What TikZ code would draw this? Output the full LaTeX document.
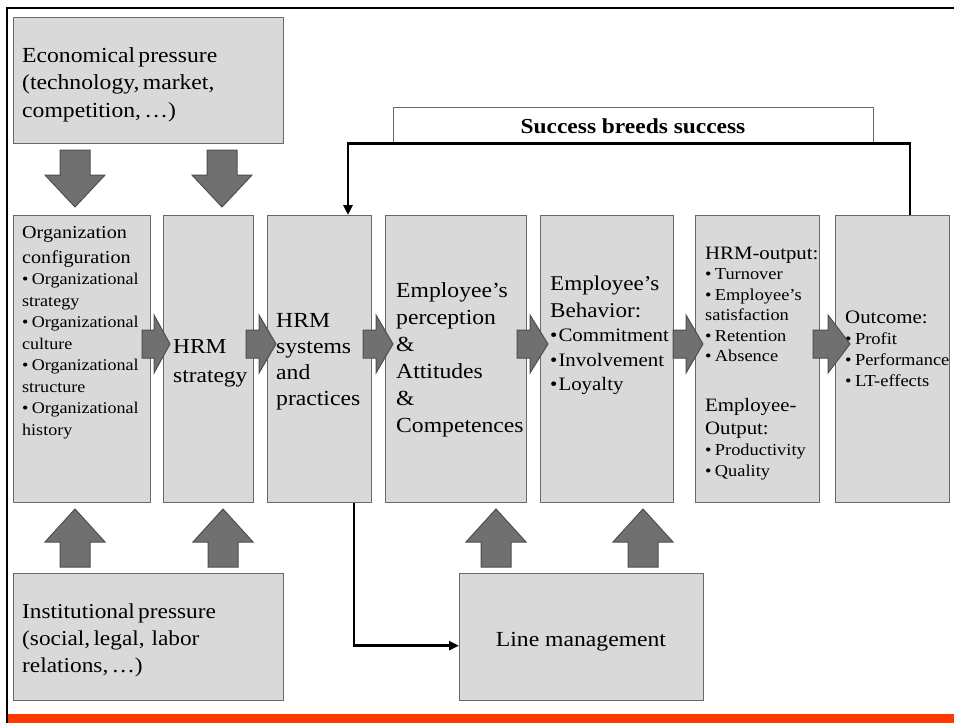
\documentclass[tikz,border=0pt]{standalone}
\usepackage{fontspec}
\setmainfont{Liberation Serif}[FakeStretch=1.1]
\usetikzlibrary{arrows.meta}
\definecolor{boxfill}{RGB}{217,217,217}
\definecolor{boxline}{RGB}{105,105,105}
\definecolor{arrfill}{RGB}{112,112,112}
\definecolor{arrline}{RGB}{78,78,78}
\definecolor{barred}{RGB}{255,56,0}
\newcommand{\setfs}[2]{\fontsize{#1pt}{#2pt}\selectfont}
\newcommand{\blkR}[3]{\filldraw[blk] (#1,330) -- (#2,330) -- (#2,315) -- (#3,344) -- (#2,373) -- (#2,358) -- (#1,358) -- cycle;}
\newcommand{\blkD}[1]{\filldraw[blk] (#1-15,150) -- (#1+15,150) -- (#1+15,175) -- (#1+30,175) -- (#1,207) -- (#1-30,175) -- (#1-15,175) -- cycle;}
\newcommand{\blkU}[1]{\filldraw[blk] (#1-15,567) -- (#1+15,567) -- (#1+15,542) -- (#1+30,542) -- (#1,509) -- (#1-30,542) -- (#1-15,542) -- cycle;}
\tikzset{
  box/.style={draw=boxline, fill=boxfill, line width=1.3pt, inner sep=0pt, anchor=north west},
  txt/.style={anchor=base west, inner sep=0pt, align=left, text width=300pt},
  blk/.style={fill=arrfill, draw=arrline, line width=1pt, line join=miter},
  fb/.style={line width=2.6pt, -{Triangle[length=10pt,width=9pt]}},
}
\begin{document}
\begin{tikzpicture}[x=1pt,y=-1pt]
\useasboundingbox (0,0) rectangle (954,723);
\fill[white] (0,0) rectangle (954,723);
% frame
\draw[line width=2pt] (7,723) -- (7,8) -- (954,8);
\fill[barred] (8,714) rectangle (954,723);

% boxes
\node[box, minimum width=270pt, minimum height=126pt] (econ) at (13,17) {};
\node[box, minimum width=137pt, minimum height=287pt] (org) at (13,215) {};
\node[box, minimum width=90pt, minimum height=287pt] (hrmstr) at (163,215) {};
\node[box, minimum width=104pt, minimum height=287pt] (hrmsys) at (267,215) {};
\node[box, minimum width=141pt, minimum height=287pt] (perc) at (385,215) {};
\node[box, minimum width=133pt, minimum height=287pt] (behav) at (540,215) {};
\node[box, minimum width=124pt, minimum height=287pt] (hrmout) at (695,215) {};
\node[box, minimum width=114pt, minimum height=287pt] (outc) at (835,215) {};
\node[box, minimum width=270pt, minimum height=127pt] (inst) at (13,573) {};
\node[box, minimum width=244pt, minimum height=127pt] (linem) at (459,573) {};
\node[box, fill=white, minimum width=480pt, minimum height=35pt] (succ) at (393,107) {};

% texts
\node[txt] (econ-t) at (22,62) {\setfs{21.5}{27.5}Economical pressure\\(technology, market,\\competition, …)\par};
\node[txt] (org-t) at (22,238) {{\setfs{18.3}{25}Organization\\configuration\par}{\setfs{16.4}{21.5}• Organizational\\strategy\\• Organizational\\culture\\• Organizational\\structure\\• Organizational\\history\par}};
\node[txt] (hrmstr-t) at (173,353) {\setfs{21.3}{29}HRM\\strategy\par};
\node[txt] (hrmsys-t) at (276,327) {\setfs{21.5}{26}HRM\\systems\\and\\practices\par};
\node[txt] (perc-t) at (396,297) {\setfs{21.5}{27}Employee’s\\perception\\\&\\Attitudes\\\&\\Competences\par};
\node[txt] (behav-t) at (550,290) {{\setfs{21}{27}Employee’s\\Behavior:\par}{\setfs{19}{24.5}•\kern1pt Commitment\\•\kern1pt Involvement\\•\kern1pt Loyalty\par}};
\node[txt] (hrmout-t) at (705,259) {{\setfs{18.9}{19}HRM-output:\par}{\setfs{16.7}{20.5}• Turnover\\• Employee’s\\satisfaction\\• Retention\\• Absence\par}\vspace{27pt}{\setfs{18.9}{23}Employee-\\Output:\par}{\setfs{16.7}{21}• Productivity\\• Quality\par}};
\node[txt] (outc-t) at (845,323) {{\setfs{19}{22}Outcome:\par}{\setfs{16.8}{21.3}• Profit\\• Performance\\• LT-effects\par}};
\node[txt] (inst-t) at (22,618) {\setfs{21.2}{27}Institutional pressure\\(social, legal,\, labor\\relations, …)\par};
\node[anchor=base, inner sep=0pt] (linem-t) at (581,646) {\setfs{21.5}{26}Line management};
\node[anchor=base, inner sep=0pt] (succ-t) at (633,133) {\setfs{21.3}{26}\bfseries Success breeds success};

% block arrows
\blkD{75}
\blkD{222}
\blkU{75}
\blkU{223}
\blkU{496}
\blkU{643}
\blkR{142}{154}{170}
\blkR{246}{259}{276}
\blkR{363}{376}{393}
\blkR{517}{530}{548}
\blkR{673}{686}{703}
\blkR{813}{828}{850}

% connectors
\draw[fb] ([xshift=75pt]outc.north west) |- (succ.south) -| ([xshift=81pt]hrmsys.north west);
\draw[fb] ([xshift=87pt]hrmsys.south west) |- ([yshift=-8.5pt]linem.west);
\end{tikzpicture}
\end{document}
